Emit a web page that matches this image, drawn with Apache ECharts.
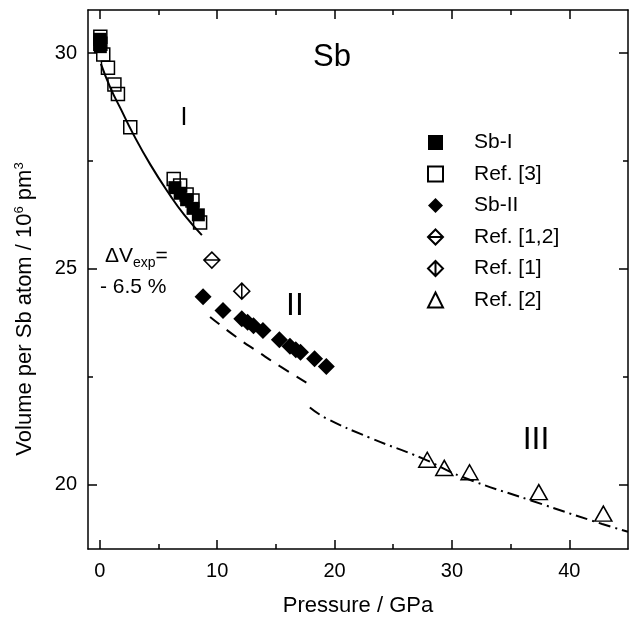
<!DOCTYPE html>
<html style="height: 100%">
<head>
   <meta charset="utf-8">
</head>
<style>
    body, html, #chart {
        margin: 0;
        width: 100%;
        height: 100%;
        background: #fff;
    }
</style>
<title>Sb</title>
<script src="https://cdn.jsdelivr.net/npm/echarts@6/dist/echarts.min.js"></script>
<body>
   <div id="chart"></div>
   <script type="text/javascript">
    // 数据 (pressure GPa, volume 10^6 pm^3)
    var sbI = [[0, 30.32], [0.05, 30.15], [6.4, 26.88], [6.85, 26.75], [7.4, 26.6], [7.95, 26.4], [8.4, 26.25]];
    var ref3 = [[0.05, 30.38], [0.05, 30.22], [0.3, 29.97], [0.7, 29.66], [1.25, 29.27], [1.55, 29.05], [2.6, 28.28],
                [6.3, 27.08], [6.85, 26.93], [7.4, 26.72], [7.9, 26.58], [8.55, 26.07]];
    var sbII = [[8.8, 24.35], [10.5, 24.03], [12.1, 23.84], [12.6, 23.76], [13.1, 23.68], [13.9, 23.57],
                [15.3, 23.35], [16.2, 23.2], [16.7, 23.12], [17.1, 23.06], [18.3, 22.91], [19.3, 22.73]];
    var ref12 = [[9.55, 25.2]];
    var ref1 = [[12.1, 24.48]];
    var ref2 = [[27.9, 20.57], [29.35, 20.38], [31.5, 20.28], [37.4, 19.82], [42.9, 19.32]];
    // fit curves
    var curveI = [[0.1, 29.75], [0.9, 29.2], [1.8, 28.7], [2.8, 28.15], [4.3, 27.42], [6.0, 26.7], [7.2, 26.25], [8.7, 25.78]];
    var curveII = [[9.4, 23.88], [11.66, 23.41], [13.5, 23.07], [15.34, 22.74], [17.6, 22.36]];
    var curveIII = [[17.9, 21.78], [19.3, 21.53], [23, 21.08], [27.5, 20.6], [30.9, 20.17], [36.8, 19.62], [42.8, 19.08], [45, 18.9]];
    // ticks
    var xMajor = [0, 10, 20, 30, 40];
    var xMinor = [5, 15, 25, 35];
    var yMajor = [20, 25, 30];
    var yMinor = [22.5, 27.5];

    var font = 'Liberation Sans, Arial, sans-serif';
    var lw = 1.5;
    var diamondH = 'path://M10,0 L20,10 L10,20 L0,10 Z M0,10 L20,10';
    var diamondV = 'path://M10,0 L20,10 L10,20 L0,10 Z M10,0 L10,20';

    function xAx(pos, ticks, len, main) {
        return {
            type: 'value', min: -1, max: 45, position: pos,
            axisLine: { show: main, onZero: false, lineStyle: { color: '#000', width: lw } },
            axisTick: { show: true, inside: true, length: len, customValues: ticks, lineStyle: { color: '#000', width: lw } },
            axisLabel: { show: main && pos === 'bottom', customValues: ticks, color: '#000', fontSize: 20, fontFamily: font, margin: 12 },
            splitLine: { show: false }
        };
    }
    function yAx(pos, ticks, len, main) {
        return {
            type: 'value', min: 18.5, max: 31, position: pos,
            axisLine: { show: main, onZero: false, lineStyle: { color: '#000', width: lw } },
            axisTick: { show: true, inside: true, length: len, customValues: ticks, lineStyle: { color: '#000', width: lw } },
            axisLabel: { show: main && pos === 'left', customValues: ticks, color: '#000', fontSize: 20, fontFamily: font, margin: 11 },
            splitLine: { show: false }
        };
    }

    var chart = echarts.init(document.getElementById('chart'));
    var xAxes = [xAx('bottom', xMajor, 9, true), xAx('bottom', xMinor, 5, false), xAx('top', xMajor, 9, true), xAx('top', xMinor, 5, false)];
    xAxes[0].name = 'Pressure / GPa';
    xAxes[0].nameLocation = 'middle';
    xAxes[0].nameGap = 46;
    xAxes[0].nameTextStyle = { color: '#000', fontSize: 22, fontFamily: font };

    var option = {
        backgroundColor: '#fff',
        animation: false,
        grid: { left: 88, right: 1, top: 10, bottom: 70 },
        xAxis: xAxes,
        yAxis: [yAx('left', yMajor, 9, true), yAx('left', yMinor, 5, false), yAx('right', yMajor, 9, true), yAx('right', yMinor, 5, false)],
        legend: {
            orient: 'vertical', left: 427, top: 132, padding: 0,
            itemWidth: 15, itemHeight: 15, itemGap: 10.5,
            data: ['Sb-I', 'Ref. [3]', 'Sb-II', 'Ref. [1,2]', 'Ref. [1]', 'Ref. [2]'],
            textStyle: { color: '#000', fontSize: 21, lineHeight: 21, fontFamily: font, padding: [0, 0, 0, 26] }
        },
        graphic: [
            { type: 'text', x: 25, y: 309, rotation: Math.PI / 2,
              style: { text: 'Volume per Sb atom / 10{sup|6} pm{sup|3}', fill: '#000', font: '22px ' + font,
                       align: 'center', verticalAlign: 'middle',
                       rich: { sup: { fontSize: 13, fontFamily: font, fill: '#000', padding: [0, 0, 12, 0] } } } },
            { type: 'text', x: 332, y: 57, style: { text: 'Sb', fill: '#000', font: '31px ' + font, align: 'center', verticalAlign: 'middle' } },
            { type: 'text', x: 184, y: 118, style: { text: 'I', fill: '#000', font: '25px ' + font, align: 'center', verticalAlign: 'middle' } },
            { type: 'text', x: 295, y: 306, style: { text: 'II', fill: '#000', font: '32px ' + font, align: 'center', verticalAlign: 'middle' } },
            { type: 'text', x: 536, y: 440, style: { text: 'III', fill: '#000', font: '32px ' + font, align: 'center', verticalAlign: 'middle' } },
            { type: 'text', x: 105, y: 256, style: { text: 'ΔV{sub|exp}=', fill: '#000', font: '21px ' + font, align: 'left', verticalAlign: 'middle',
                       rich: { sub: { fontSize: 14, fontFamily: font, fill: '#000', padding: [14, 0, 0, 0] } } } },
            { type: 'text', x: 100, y: 287, style: { text: '- 6.5 %', fill: '#000', font: '21px ' + font, align: 'left', verticalAlign: 'middle' } }
        ],
        series: [
            { name: 'fitI', type: 'line', data: curveI, smooth: true, showSymbol: false, silent: true,
              lineStyle: { color: '#000', width: 2 } },
            { name: 'fitII', type: 'line', data: curveII, smooth: true, showSymbol: false, silent: true,
              lineStyle: { color: '#000', width: 2, type: [12, 9] } },
            { name: 'fitIII', type: 'line', data: curveIII, smooth: true, showSymbol: false, silent: true,
              lineStyle: { color: '#000', width: 2, type: [12, 5, 2, 5] } },
            { name: 'Ref. [3]', type: 'scatter', data: ref3, symbol: 'rect', symbolSize: 13,
              itemStyle: { color: 'rgba(255,255,255,0)', borderColor: '#000', borderWidth: lw, opacity: 1 } },
            { name: 'Sb-I', type: 'scatter', data: sbI, symbol: 'rect', symbolSize: 13,
              itemStyle: { color: '#000', opacity: 1 } },
            { name: 'Sb-II', type: 'scatter', data: sbII, symbol: 'diamond', symbolSize: 17,
              itemStyle: { color: '#000', opacity: 1 } },
            { name: 'Ref. [1,2]', type: 'scatter', data: ref12, symbol: diamondH, symbolSize: 16,
              itemStyle: { color: '#fff', borderColor: '#000', borderWidth: lw, opacity: 1 } },
            { name: 'Ref. [1]', type: 'scatter', data: ref1, symbol: diamondV, symbolSize: 16,
              itemStyle: { color: '#fff', borderColor: '#000', borderWidth: lw, opacity: 1 } },
            { name: 'Ref. [2]', type: 'scatter', data: ref2, symbol: 'triangle', symbolSize: [17, 15],
              itemStyle: { color: '#fff', borderColor: '#000', borderWidth: lw, opacity: 1 } }
        ]
    };
    chart.setOption(option);
   </script>
</body>
</html>
